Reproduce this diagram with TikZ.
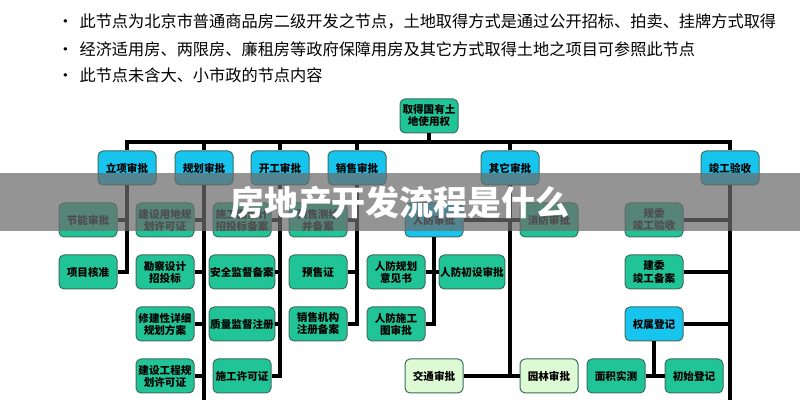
\documentclass[tikz,border=0pt]{standalone}
\usepackage{fontspec}
\newfontfamily\cjk{Noto Sans CJK SC}
\usepackage{tikz}
\definecolor{boxgreen}{RGB}{32,196,150}
\definecolor{boxblue}{RGB}{22,196,238}
\definecolor{boxlight}{RGB}{222,250,212}
\definecolor{boxline}{RGB}{60,110,95}
\tikzset{
  box/.style={draw=boxline, line width=0.5pt, rounded corners=2.5pt, fill=boxgreen,
    minimum width=29pt, minimum height=17pt, inner sep=0.5pt, align=center,
    font=\cjk\bfseries\fontsize{5.3}{6}\selectfont},
  head/.style={box, fill=boxblue},
  soft/.style={box, fill=boxlight},
  link/.style={line width=2pt, black},
}
\begin{document}
\begin{tikzpicture}[x=0.5pt,y=-0.5pt]
  \useasboundingbox (0,0) rectangle (800,400);
  \fill[white] (0,0) rectangle (800,400);

  % notes
  \foreach \y/\t in {22/此节点为北京市普通商品房二级开发之节点，土地取得方式是通过公开招标、拍卖、挂牌方式取得,
                     49/经济适用房、两限房、廉租房等政府保障用房及其它方式取得土地之项目可参照此节点,
                     75/此节点未含大、小市政的节点内容}
    \node[anchor=west, inner sep=0pt, font=\cjk\fontsize{8.1}{9}\selectfont] at (57,\y) {·\hspace{3pt}\t};

  % nodes
  \node[box] (land) at (429,116) {取得国有土\\地使用权};

  \node[head] (lx) at (127,168) {立项审批};
  \node[head] (gh) at (204,168) {规划审批};
  \node[head] (kg) at (280,168) {开工审批};
  \node[head] (xs) at (357,168) {销售审批};
  \node[head] (qt) at (510,168) {其它审批};
  \node[head] (jg) at (730,168) {竣工验收};

  \node[box] (jn) at (88,220) {节能审批};
  \node[box] (hz) at (88,272) {项目核准};

  \node[box] (yd) at (165,220) {建设用地规\\划许可证};
  \node[box] (kc) at (165,272) {勘察设计\\招投标};
  \node[box] (xj) at (165,324) {修建性详细\\规划方案};
  \node[box] (gc) at (165,376) {建设工程规\\划许可证};

  \node[box] (st) at (242,220) {施工图设计\\招投标备案};
  \node[box] (aq) at (242,272) {安全监督备案};
  \node[box] (zl) at (242,324) {质量监督注册};
  \node[box] (xk) at (242,376) {施工许可证};

  \node[box] (ch) at (318,220) {预售测绘\\并备案};
  \node[box] (ys) at (318,272) {预售证};
  \node[box] (jg2) at (318,324) {销售机构\\注册备案};

  \node[head] (rf) at (434,220) {人防审批};
  \node[box] (xf) at (549,220) {消防审批};
  \node[box] (rg) at (396,272) {人防规划\\意见书};
  \node[box] (rc) at (472,272) {人防初设审批};
  \node[box] (rs) at (396,324) {人防施工\\图审批};
  \node[soft] (jt) at (434,376) {交通审批};
  \node[soft] (yl) at (549,376) {园林审批};

  \node[box] (gw) at (654,220) {规委\\竣工验收};
  \node[box] (jw) at (654,272) {建委\\竣工备案};
  \node[head] (qs) at (654,324) {权属登记};
  \node[box] (mj) at (616,376) {面积实测};
  \node[box] (cs) at (694,376) {初始登记};

  % connectors
  \coordinate (busl) at (125,142);
  \coordinate (busr) at (732,142);
  \draw[link] (land) -- (land |- busl);
  \draw[link] (busl) -- (busr);
  \foreach \n in {lx,gh,kg,xs,qt,jg}
    \draw[link] (\n.north |- busl) -- (\n.north);

  \draw[link] (lx) -- (lx |- hz) -- (hz);
  \draw[link] (lx |- jn) -- (jn);

  \coordinate (ghend) at (204,400);
  \draw[link] (gh) -- (ghend);
  \foreach \n in {yd,kc,xj,gc} \draw[link] (gh |- \n) -- (\n);

  \draw[link] (kg) -- (kg |- xk) -- (xk);
  \foreach \n in {st,aq,zl} \draw[link] (kg |- \n) -- (\n);

  \draw[link] (xs) -- (xs |- jg2) -- (jg2);
  \foreach \n in {ch,ys} \draw[link] (xs |- \n) -- (\n);

  \draw[link] (qt) -- (qt |- yl);
  \draw[link] (rf) -- (xf);
  \draw[link] (rf) -- (rf |- rs) -- (rs);
  \draw[link] (rg) -- (rc);
  \draw[link] (jt) -- (yl);

  \coordinate (jgend) at (730,400);
  \draw[link] (jg) -- (jgend);
  \foreach \n in {gw,jw,qs} \draw[link] (jg |- \n) -- (\n);
  \draw[link] (qs) -- (qs |- mj);
  \draw[link] (mj) -- (cs);

  % banner
  \fill[gray!85!black, opacity=0.72] (0,173) rectangle (800,231);
  \node[text=white, font=\cjk\bfseries\fontsize{17}{18}\selectfont] (title) at (400,203) {房地产开发流程是什么};
\end{tikzpicture}
\end{document}
